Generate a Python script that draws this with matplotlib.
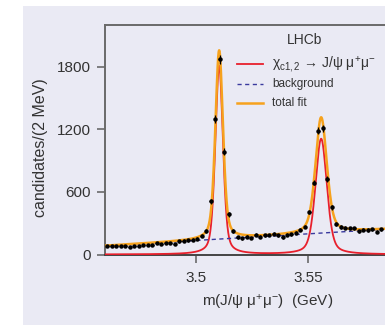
import numpy as np
import matplotlib
matplotlib.use("Agg")
import matplotlib.pyplot as plt
from matplotlib.lines import Line2D
from matplotlib.patches import Rectangle

# ---- data ----
bin_start = 3.4605   # GeV, centre of first 2 MeV bin
bin_width = 0.002
counts = [82, 78, 82, 85, 82, 75, 78, 85, 88, 91,
          95, 111, 101, 107, 114, 104, 126, 133, 136, 143,
          152, 181, 226, 512, 1301, 1874, 987, 384, 226, 165,
          155, 171, 158, 190, 171, 184, 187, 200, 184, 165,
          190, 194, 209, 238, 267, 411, 690, 1188, 1210, 723,
          452, 293, 264, 256, 252, 252, 221, 238, 235, 242,
          219, 243]
masses = bin_start + bin_width * np.arange(len(counts))

# fit model parameters
peak_mass = [3.5103, 3.5557]      # GeV
peak_height = [1810, 1110]        # candidates / 2 MeV
peak_hwhm = [0.0020, 0.0030]      # GeV
lorentz_frac = 0.4
bg_at_3p5 = 135.0
bg_slope = 1270.0                  # per GeV

yticks = [0, 600, 1200, 1800]
xticks = [3.5, 3.55]
xticklabels = ["3.5", "3.55"]

# ---- style ----
plt.rcParams['font.family'] = ['Liberation Sans', 'DejaVu Sans']
plt.rcParams['mathtext.fontset'] = 'custom'
plt.rcParams['mathtext.rm'] = 'Liberation Sans'
plt.rcParams['mathtext.it'] = 'Liberation Sans:italic'
plt.rcParams['mathtext.bf'] = 'Liberation Sans:bold'

lav = '#eaeaf4'
spine_col = '#6a6a6a'
txt_col = '#333333'

fig = plt.figure(figsize=(3.85, 3.25), dpi=100)
fig.patch.set_facecolor('white')
fig.patches.append(Rectangle((23/385, 0), 1, (325-6)/325, transform=fig.transFigure,
                             facecolor=lav, edgecolor='none', zorder=-10))

ax = fig.add_axes([105/385, (325-254.5)/325, (431-105)/385, (254.5-25)/325])
ax.set_facecolor(lav)

def pseudo_voigt(m, m0, h, eta):
    x = (m - m0) / h
    return eta / (1 + x**2) + (1 - eta) * np.exp(-np.log(2) * x**2)

mm = np.linspace(3.455, 3.61, 3000)
sig = np.zeros_like(mm)
for m0, a, h in zip(peak_mass, peak_height, peak_hwhm):
    sig += a * pseudo_voigt(mm, m0, h, lorentz_frac)
bg = bg_at_3p5 + bg_slope * (mm - 3.5)
tot = sig + bg

red = '#e8202c'
orange = '#f6a21d'
blue = '#3a3a9e'

ax.plot(mm, sig, color=red, lw=1.3, zorder=3, clip_on=True)
ax.plot(mm, bg, color=blue, lw=1.0, ls=(0, (3, 2.5)), zorder=3)
ax.plot(mm, tot, color=orange, lw=1.8, zorder=4)

counts_arr = np.array(counts, dtype=float)
ax.errorbar(masses, counts_arr, yerr=np.sqrt(counts_arr), xerr=0.0006,
            fmt='o', ms=2.2, color='black', ecolor='black', elinewidth=0.9,
            capsize=0, zorder=5)

ax.set_xlim(3.45948, 3.6046)
ax.set_ylim(0, 2203)
ax.set_xticks(xticks)
ax.set_xticklabels(xticklabels)
ax.set_yticks(yticks)

for s in ['left', 'top', 'bottom']:
    ax.spines[s].set_color(spine_col)
    ax.spines[s].set_linewidth(1.4)
ax.spines['bottom'].set_color('#444444')
ax.spines['right'].set_visible(False)
ax.tick_params(direction='out', length=6, width=1.2, color=spine_col,
               labelsize=11, labelcolor=txt_col, pad=4)
ax.tick_params(axis='x', pad=6)

ax.set_xlabel(r'm(J/ψ μ$^{+}$μ$^{-}$)  (GeV)', fontsize=11, color=txt_col, labelpad=6)
ax.set_ylabel('candidates/(2 MeV)', fontsize=11.5, color=txt_col)
ax.yaxis.set_label_coords(-0.176, 0.466)

# ---- legend (drawn manually) ----
def fx(px):
    return px / 385
def fy(py):
    return 1 - py / 325

fig.text(fx(305), fy(40), 'LHCb', ha='center', va='center', fontsize=10, color=txt_col)
entries = [
    (r'χ$_{\mathrm{c1,2}}$ → J/ψ μ$^{+}$μ$^{-}$', dict(color=red, lw=1.3), 64, 10),
    ('background', dict(color=blue, lw=1.0, ls=(0, (3, 2.5))), 83.5, 8.5),
    ('total fit', dict(color=orange, lw=1.8), 102.5, 8.5),
]
for label, style, ypx, fs in entries:
    fig.add_artist(Line2D([fx(237), fx(263)], [fy(ypx), fy(ypx)],
                          transform=fig.transFigure, **style))
    fig.text(fx(272), fy(ypx), label, ha='left', va='center', fontsize=fs, color=txt_col)

fig.savefig('out.png', dpi=100)
